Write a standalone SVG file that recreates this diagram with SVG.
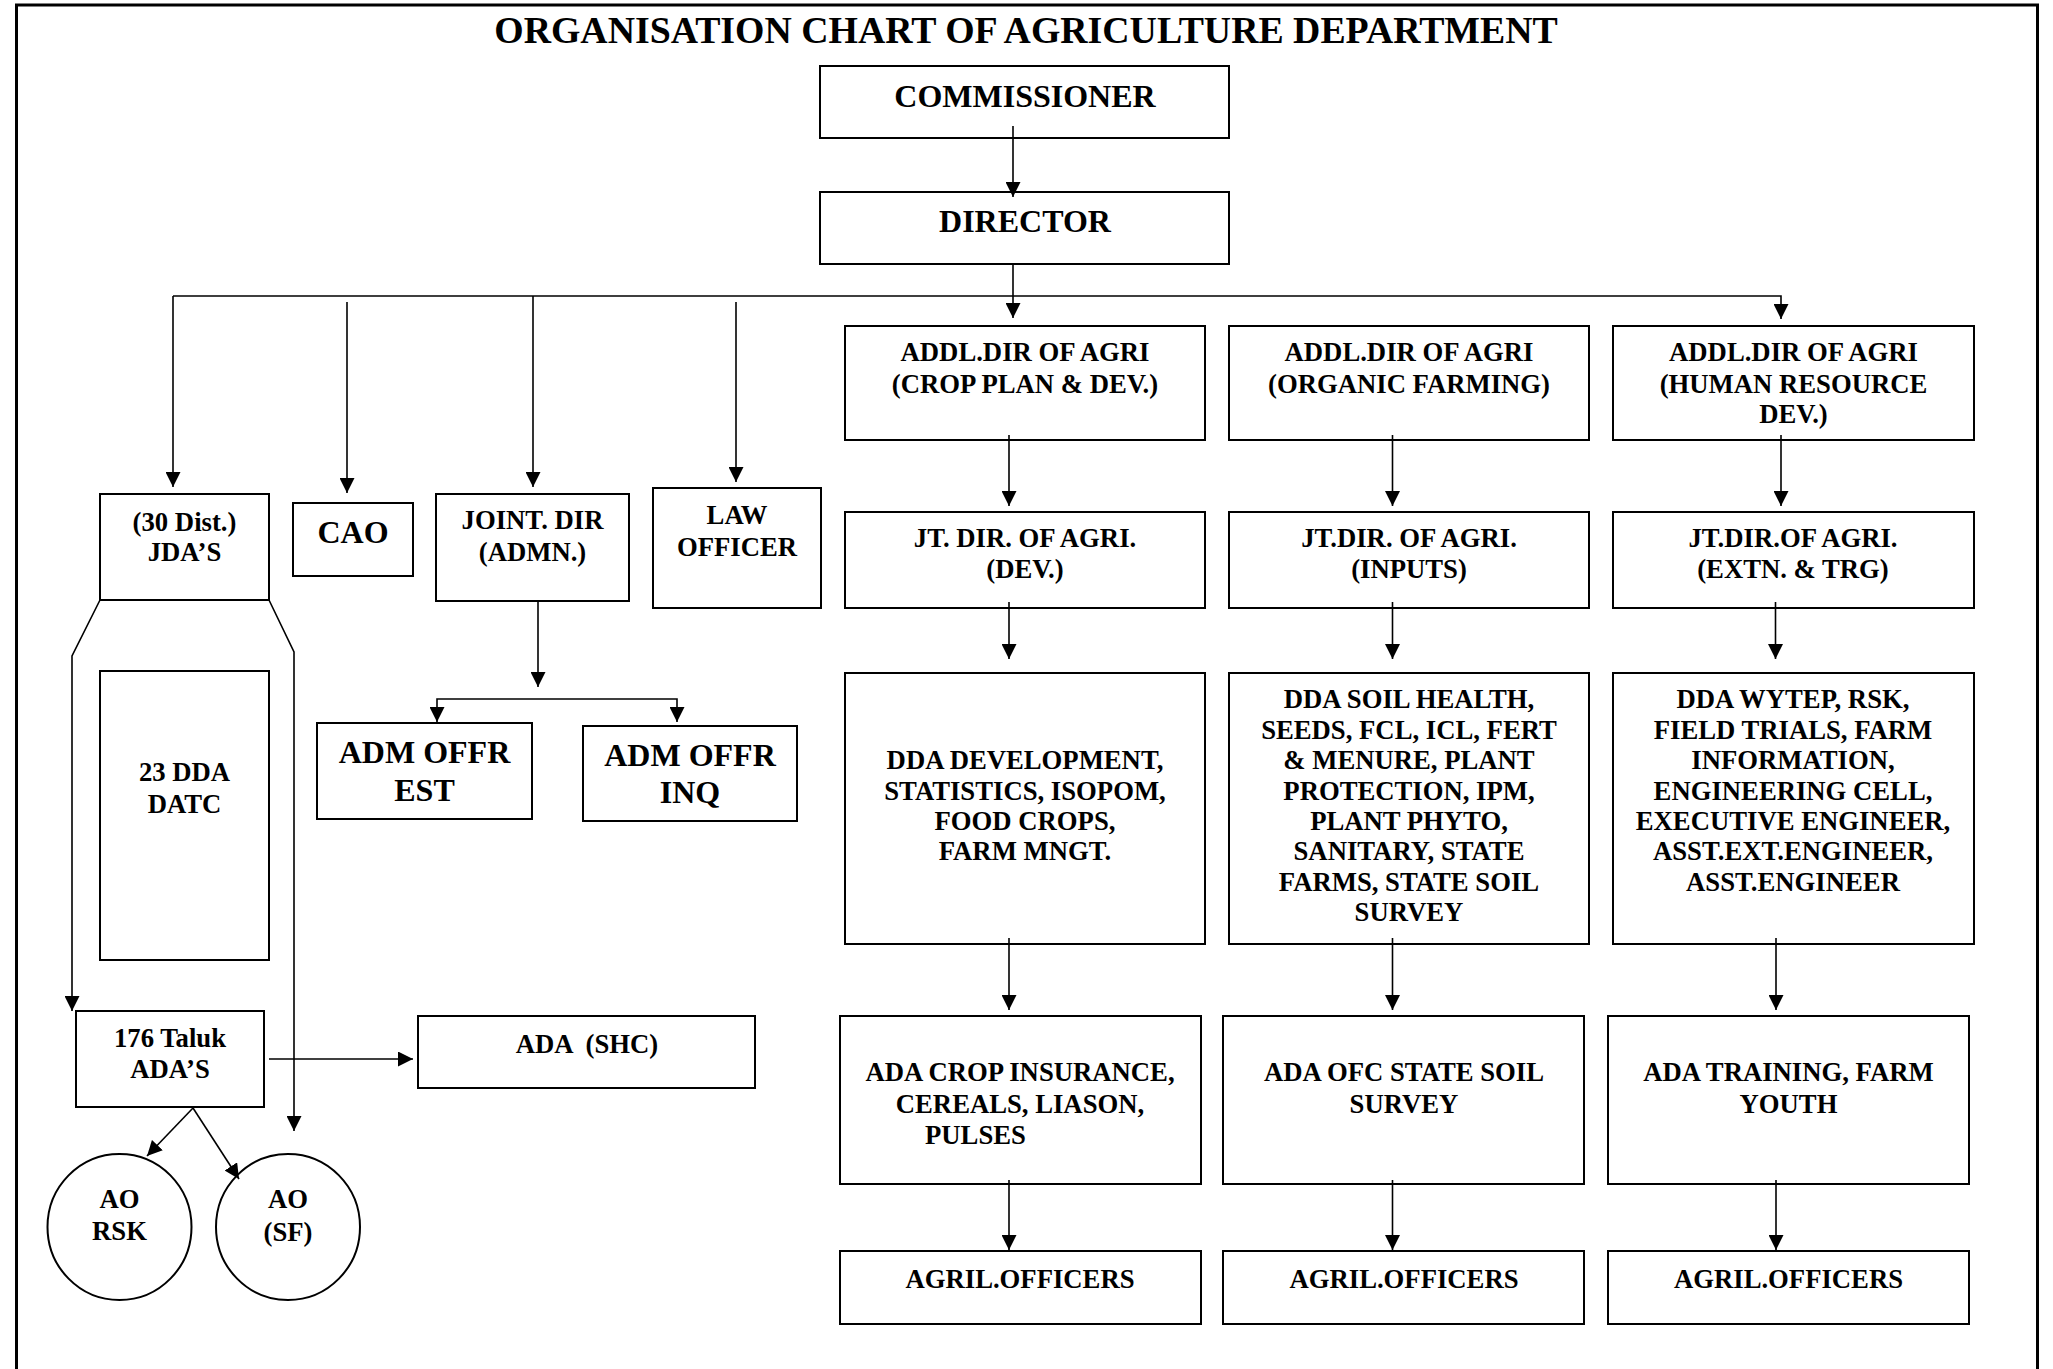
<svg xmlns="http://www.w3.org/2000/svg" width="2053" height="1369" viewBox="0 0 2053 1369">
<style>
.box{fill:#fff;stroke:#000;stroke-width:2}
.t{font-family:"Liberation Serif","Times New Roman",serif;font-weight:bold;font-size:26.7px;text-anchor:middle;fill:#000}
.big{font-size:32px}
.b32{font-size:32px}
.c{fill:none;stroke:#000;stroke-width:1.6}
.a{marker-end:url(#arr)}
</style>
<defs>
<marker id="arr" markerUnits="userSpaceOnUse" markerWidth="16" markerHeight="15" refX="15" refY="7.5" orient="auto">
<path d="M0,0 L15,7.5 L0,15 z" fill="#000"/>
</marker>
</defs>
<rect x="0" y="0" width="2053" height="1369" fill="#fff"/>
<rect x="16.5" y="5" width="2021" height="1400" fill="none" stroke="#000" stroke-width="3"/>
<text class="t" x="1026" y="43" style="font-size:37.8px">ORGANISATION CHART OF AGRICULTURE DEPARTMENT</text>

<g id="commissioner"><rect class="box" x="820" y="66" width="409" height="72"/><text class="t big" x="1025" y="107">COMMISSIONER</text></g>
<g id="director"><rect class="box" x="820" y="192" width="409" height="72"/><text class="t big" x="1025" y="232">DIRECTOR</text></g>

<g id="jda"><rect class="box" x="100" y="494" width="169" height="106"/><text class="t" x="184.5" y="531">(30 Dist.)</text><text class="t" x="184.5" y="561">JDA’S</text></g>
<g id="cao"><rect class="box" x="293" y="503" width="120" height="73"/><text class="t b32" x="353" y="543">CAO</text></g>
<g id="jointdir"><rect class="box" x="436" y="494" width="193" height="107"/><text class="t" x="532.5" y="529">JOINT. DIR</text><text class="t" x="532.5" y="561">(ADMN.)</text></g>
<g id="lawofficer"><rect class="box" x="653" y="488" width="168" height="120"/><text class="t" x="737" y="524">LAW</text><text class="t" x="737" y="556">OFFICER</text></g>
<g id="admest"><rect class="box" x="317" y="723" width="215" height="96"/><text class="t b32" x="424.5" y="763">ADM OFFR</text><text class="t b32" x="424.5" y="801">EST</text></g>
<g id="adminq"><rect class="box" x="583" y="726" width="214" height="95"/><text class="t b32" x="690" y="766">ADM OFFR</text><text class="t b32" x="690" y="803">INQ</text></g>
<g id="dda23"><rect class="box" x="100" y="671" width="169" height="289"/><text class="t" x="184.5" y="781">23 DDA</text><text class="t" x="184.5" y="813">DATC</text></g>
<g id="taluk"><rect class="box" x="76" y="1011" width="188" height="96"/><text class="t" x="170" y="1047">176 Taluk</text><text class="t" x="170" y="1078">ADA’S</text></g>
<g id="adashc"><rect class="box" x="418" y="1016" width="337" height="72"/><text class="t" x="587" y="1053" xml:space="preserve">ADA  (SHC)</text></g>
<g id="aorsk"><ellipse class="box" cx="119.5" cy="1227" rx="72" ry="73"/><text class="t" x="119.5" y="1208">AO</text><text class="t" x="119.5" y="1240">RSK</text></g>
<g id="aosf"><ellipse class="box" cx="288" cy="1227" rx="72" ry="73"/><text class="t" x="288" y="1208">AO</text><text class="t" x="288" y="1241">(SF)</text></g>

<g id="addl1"><rect class="box" x="845" y="326" width="360" height="114"/><text class="t" x="1025" y="361">ADDL.DIR OF AGRI</text><text class="t" x="1025" y="393">(CROP PLAN &amp; DEV.)</text></g>
<g id="addl2"><rect class="box" x="1229" y="326" width="360" height="114"/><text class="t" x="1409" y="361">ADDL.DIR OF AGRI</text><text class="t" x="1409" y="393">(ORGANIC FARMING)</text></g>
<g id="addl3"><rect class="box" x="1613" y="326" width="361" height="114"/><text class="t" x="1793.5" y="361">ADDL.DIR OF AGRI</text><text class="t" x="1793.5" y="393">(HUMAN RESOURCE</text><text class="t" x="1793.5" y="423">DEV.)</text></g>

<g id="jt1"><rect class="box" x="845" y="512" width="360" height="96"/><text class="t" x="1025" y="547">JT. DIR. OF AGRI.</text><text class="t" x="1025" y="578">(DEV.)</text></g>
<g id="jt2"><rect class="box" x="1229" y="512" width="360" height="96"/><text class="t" x="1409" y="547">JT.DIR. OF AGRI.</text><text class="t" x="1409" y="578">(INPUTS)</text></g>
<g id="jt3"><rect class="box" x="1613" y="512" width="361" height="96"/><text class="t" x="1793" y="547">JT.DIR.OF AGRI.</text><text class="t" x="1793" y="578">(EXTN. &amp; TRG)</text></g>

<g id="dda1"><rect class="box" x="845" y="673" width="360" height="271"/>
<text class="t" x="1025" y="769">DDA DEVELOPMENT,</text><text class="t" x="1025" y="800">STATISTICS, ISOPOM,</text><text class="t" x="1025" y="830">FOOD CROPS,</text><text class="t" x="1025" y="860">FARM MNGT.</text></g>
<g id="dda2"><rect class="box" x="1229" y="673" width="360" height="271"/>
<text class="t" x="1409" y="708">DDA SOIL HEALTH,</text><text class="t" x="1409" y="739">SEEDS, FCL, ICL, FERT</text><text class="t" x="1409" y="769">&amp; MENURE, PLANT</text><text class="t" x="1409" y="800">PROTECTION, IPM,</text><text class="t" x="1409" y="830">PLANT PHYTO,</text><text class="t" x="1409" y="860">SANITARY, STATE</text><text class="t" x="1409" y="891">FARMS, STATE SOIL</text><text class="t" x="1409" y="921">SURVEY</text></g>
<g id="dda3"><rect class="box" x="1613" y="673" width="361" height="271"/>
<text class="t" x="1793" y="708">DDA WYTEP, RSK,</text><text class="t" x="1793" y="739">FIELD TRIALS, FARM</text><text class="t" x="1793" y="769">INFORMATION,</text><text class="t" x="1793" y="800">ENGINEERING CELL,</text><text class="t" x="1793" y="830">EXECUTIVE ENGINEER,</text><text class="t" x="1793" y="860">ASST.EXT.ENGINEER,</text><text class="t" x="1793" y="891">ASST.ENGINEER</text></g>

<g id="ada1"><rect class="box" x="840" y="1016" width="361" height="168"/><text class="t" x="1020" y="1081">ADA CROP INSURANCE,</text><text class="t" x="1020" y="1113">CEREALS, LIASON,</text><text class="t" x="925" y="1144" style="text-anchor:start">PULSES</text></g>
<g id="ada2"><rect class="box" x="1223" y="1016" width="361" height="168"/><text class="t" x="1404" y="1081">ADA OFC STATE SOIL</text><text class="t" x="1404" y="1113">SURVEY</text></g>
<g id="ada3"><rect class="box" x="1608" y="1016" width="361" height="168"/><text class="t" x="1788.5" y="1081">ADA TRAINING, FARM</text><text class="t" x="1788.5" y="1113">YOUTH</text></g>

<g id="ao1"><rect class="box" x="840" y="1251" width="361" height="73"/><text class="t" x="1020" y="1288">AGRIL.OFFICERS</text></g>
<g id="ao2"><rect class="box" x="1223" y="1251" width="361" height="73"/><text class="t" x="1404" y="1288">AGRIL.OFFICERS</text></g>
<g id="ao3"><rect class="box" x="1608" y="1251" width="361" height="73"/><text class="t" x="1788.5" y="1288">AGRIL.OFFICERS</text></g>

<g id="connectors">
<path class="c a" d="M1013,126 V197"/>
<path class="c a" d="M1013,264 V318"/>
<path class="c a" d="M173,296 H1781 V319"/>
<path class="c a" d="M173,296 V487"/>
<path class="c a" d="M347,302 V493"/>
<path class="c a" d="M533,296 V487"/>
<path class="c a" d="M736,302 V482"/>
<path class="c a" d="M538,602 V687"/>
<path class="c a" d="M538,699 H437 V722"/>
<path class="c a" d="M538,699 H677 V722"/>
<path class="c a" d="M100,600 L72,656 V1011"/>
<path class="c a" d="M269,600 L294,652 V1131"/>
<path class="c a" d="M269,1059 H413"/>
<path class="c a" d="M193,1108 L147,1156"/>
<path class="c a" d="M193,1108 L239,1179"/>
<path class="c a" d="M1009,435 V506"/>
<path class="c a" d="M1392.5,435 V506"/>
<path class="c a" d="M1781,435 V506"/>
<path class="c a" d="M1009,602 V659"/>
<path class="c a" d="M1392.5,602 V659"/>
<path class="c a" d="M1775.5,602 V659"/>
<path class="c a" d="M1009,938 V1010"/>
<path class="c a" d="M1392.5,938 V1010"/>
<path class="c a" d="M1776,938 V1010"/>
<path class="c a" d="M1009,1180 V1250"/>
<path class="c a" d="M1392.5,1180 V1250"/>
<path class="c a" d="M1776,1180 V1250"/>
</g>
</svg>
